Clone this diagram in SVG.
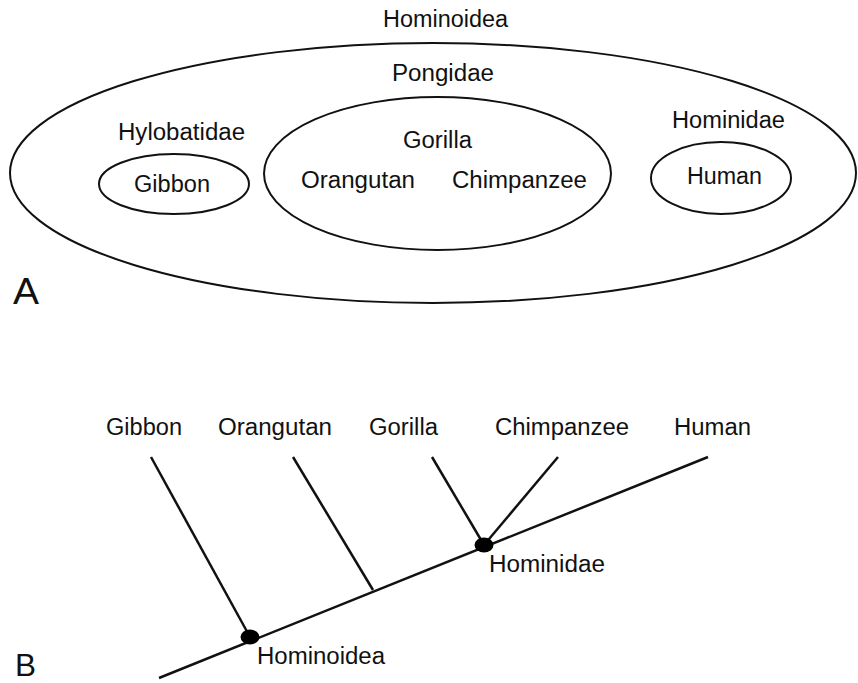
<svg xmlns="http://www.w3.org/2000/svg" width="858" height="683" viewBox="0 0 858 683">
<style>
text{font-family:"Liberation Sans",Arial,sans-serif;font-size:23px;fill:#111;}
.big{font-size:36px;}
.set{fill:none;stroke:#111;stroke-width:2;}
.br{fill:none;stroke:#111;stroke-width:2.5;stroke-linecap:butt;}
.dot{fill:#000;}
</style>
<rect width="858" height="683" fill="#fff"/>
<g id="partA">
<g id="hominoidea-set">
<ellipse class="set" cx="433" cy="173" rx="423" ry="130"/>
<text x="383" y="27" textLength="125" lengthAdjust="spacingAndGlyphs">Hominoidea</text>
</g>
<g id="pongidae-set">
<ellipse class="set" cx="437.5" cy="173.5" rx="173.5" ry="76.5"/>
<text x="392" y="81" textLength="102" lengthAdjust="spacingAndGlyphs">Pongidae</text>
<text x="403" y="148" textLength="69" lengthAdjust="spacingAndGlyphs">Gorilla</text>
<text x="301" y="188" textLength="114" lengthAdjust="spacingAndGlyphs">Orangutan</text>
<text x="452" y="188" textLength="135" lengthAdjust="spacingAndGlyphs">Chimpanzee</text>
</g>
<g id="hylobatidae-set">
<ellipse class="set" cx="174" cy="184" rx="75" ry="30"/>
<text x="118" y="140" textLength="127" lengthAdjust="spacingAndGlyphs">Hylobatidae</text>
<text x="134" y="192" textLength="76" lengthAdjust="spacingAndGlyphs">Gibbon</text>
</g>
<g id="hominidae-set">
<ellipse class="set" cx="721" cy="178" rx="70" ry="36"/>
<text x="672" y="128" textLength="113" lengthAdjust="spacingAndGlyphs">Hominidae</text>
<text x="687" y="184" textLength="75" lengthAdjust="spacingAndGlyphs">Human</text>
</g>
<text class="big" x="13" y="304" textLength="26" lengthAdjust="spacingAndGlyphs">A</text>
</g>
<g id="partB">
<g id="connectors">
<line class="br" x1="159" y1="678" x2="708" y2="457"/>
<line class="br" x1="151" y1="457" x2="250" y2="637"/>
<line class="br" x1="293" y1="457" x2="373" y2="590"/>
<line class="br" x1="432" y1="457" x2="484" y2="545"/>
<line class="br" x1="558" y1="457" x2="484" y2="545"/>
</g>
<g id="tip-gibbon"><text x="106" y="435" textLength="76" lengthAdjust="spacingAndGlyphs">Gibbon</text></g>
<g id="tip-orangutan"><text x="218" y="435" textLength="114" lengthAdjust="spacingAndGlyphs">Orangutan</text></g>
<g id="tip-gorilla"><text x="369" y="435" textLength="69" lengthAdjust="spacingAndGlyphs">Gorilla</text></g>
<g id="tip-chimpanzee"><text x="495" y="435" textLength="134" lengthAdjust="spacingAndGlyphs">Chimpanzee</text></g>
<g id="tip-human"><text x="674" y="435" textLength="77" lengthAdjust="spacingAndGlyphs">Human</text></g>
<g id="node-hominidae">
<ellipse class="dot" cx="484" cy="545" rx="9.5" ry="7.5"/>
<text x="489" y="572" textLength="116" lengthAdjust="spacingAndGlyphs">Hominidae</text>
</g>
<g id="node-hominoidea">
<ellipse class="dot" cx="250" cy="637" rx="9.5" ry="7.5"/>
<text x="257" y="664" textLength="128" lengthAdjust="spacingAndGlyphs">Hominoidea</text>
</g>
<text x="15" y="676" style="font-size:32px" textLength="21" lengthAdjust="spacingAndGlyphs">B</text>
</g>
</svg>
